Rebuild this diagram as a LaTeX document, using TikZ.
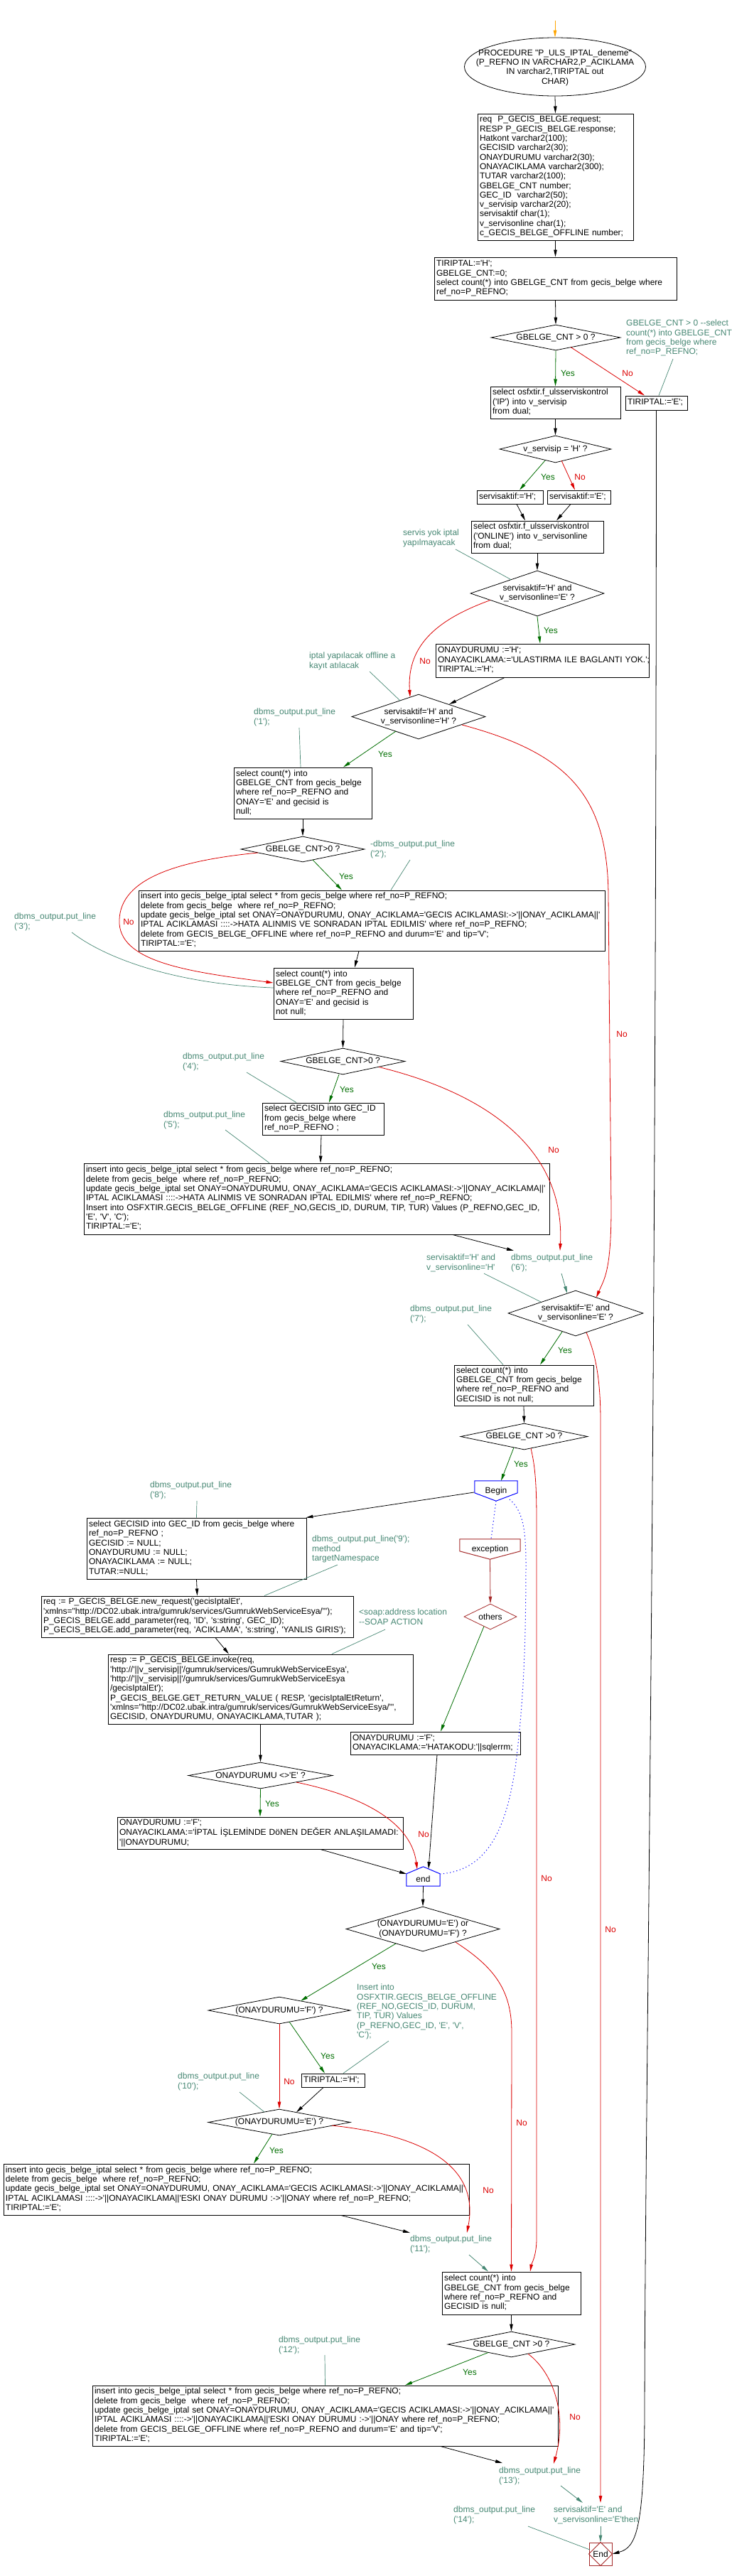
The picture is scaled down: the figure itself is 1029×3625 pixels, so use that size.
\documentclass[tikz,border=0pt]{standalone}
\usepackage{fontspec}
\usetikzlibrary{shapes.geometric,arrows.meta,calc}
\newfontfamily\df{Liberation Sans}
\newcommand\myfs{\df\fontsize{12pt}{13.33pt}\selectfont}
\newcommand\mytab[1]{\begin{tabular}{@{}l@{}}#1\end{tabular}}
\definecolor{tl}{RGB}{70,135,115}
\definecolor{gr}{RGB}{0,110,0}
\definecolor{rd}{RGB}{220,0,0}
\definecolor{dr}{RGB}{165,42,42}
\definecolor{bl}{RGB}{0,0,255}
\definecolor{og}{RGB}{255,165,0}
\begin{document}
\begin{tikzpicture}[x=1pt,y=-1pt,
  font=\myfs,
  bx/.style={draw, line width=1pt, inner xsep=3pt, inner ysep=1pt, align=left},
  dia/.style={diamond, draw, line width=0.8pt, inner sep=0pt},
  cmt/.style={text=tl, align=left, inner sep=0pt, anchor=north west},
  yl/.style={text=gr, inner sep=0pt},
  nl/.style={text=rd, inner sep=0pt},
  ar/.style={line width=0.8pt, -{Triangle[length=10pt,width=4.5pt]}},
  ya/.style={ar, gr},
  na/.style={ar, rd},
  ta/.style={ar, tl},
  tn/.style={line width=0.7pt, tl},
  bd/.style={bl, line width=1pt, dash pattern=on 1.2pt off 3.5pt},
]
\path[use as bounding box, fill=white] (0,0) rectangle (1029,3625);

% ---------- nodes ----------
\coordinate (init) at (781,29);
\node[ellipse, draw, line width=0.8pt, minimum width=255pt, minimum height=82pt, inner sep=0pt] (start) at (781,94) {};
\node[align=center, inner sep=0pt] (startt) at (781,95) {PROCEDURE "P\_ULS\_IPTAL\_deneme"\\(P\_REFNO IN VARCHAR2,P\_ACIKLAMA\\IN varchar2,TIRIPTAL out\\CHAR)};

\node[bx, text width=213pt, minimum height=178pt] (decl) at (781.5,249) {\mytab{req~ P\_GECIS\_BELGE.request;\\RESP P\_GECIS\_BELGE.response;\\Hatkont varchar2(100);\\GECISID varchar2(30);\\ONAYDURUMU varchar2(30);\\ONAYACIKLAMA varchar2(300);\\TUTAR varchar2(100);\\GBELGE\_CNT number;\\GEC\_ID~ varchar2(50);\\v\_servisip varchar2(20);\\servisaktif char(1);\\v\_servisonline char(1);\\c\_GECIS\_BELGE\_OFFLINE number;}};

\node[bx, text width=335pt, minimum height=60pt] (b2) at (781.5,392) {\mytab{TIRIPTAL:='H';\\GBELGE\_CNT:=0;\\select count(*) into GBELGE\_CNT from gecis\_belge where\\ref\_no=P\_REFNO;}};

\node[dia, minimum width=182pt, minimum height=36pt] (d1) at (782,475) {};
\node (d1t) at (d1) {GBELGE\_CNT > 0 ?};

\node[bx, text width=177pt, minimum height=45pt] (b3) at (781.5,566.5) {\mytab{select osfxtir.f\_ulsserviskontrol\\('IP') into v\_servisip\\from dual;}};
\node[bx, text width=81pt, minimum height=20pt] (bE) at (923.5,567) {\mytab{TIRIPTAL:='E';}};

\node[dia, minimum width=157pt, minimum height=38pt] (d2) at (781.5,632) {};
\node (d2t) at (d2) {v\_servisip = 'H' ?};

\node[bx, text width=87pt, minimum height=19pt] (bsH) at (717.5,699.5) {\mytab{servisaktif:='H';}};
\node[bx, text width=83pt, minimum height=19pt] (bsE) at (814.5,699.5) {\mytab{servisaktif:='E';}};

\node[bx, text width=180pt, minimum height=45pt] (b4) at (756,755.5) {\mytab{select osfxtir.f\_ulsserviskontrol\\('ONLINE') into v\_servisonline\\from dual;}};

\node[dia, minimum width=188pt, minimum height=64pt] (d3) at (756,835) {};
\node[align=center] (d3t) at (d3) {servisaktif='H' and\\v\_servisonline='E' ?};

\node[bx, text width=294pt, minimum height=47pt] (b5) at (763,929.5) {\mytab{ONAYDURUMU :='H';\\ONAYACIKLAMA:='ULASTIRMA ILE BAGLANTI YOK.';\\TIRIPTAL:='H';}};

\node[dia, minimum width=188pt, minimum height=63pt] (d4) at (589,1008.5) {};
\node[align=center] (d4t) at (d4) {servisaktif='H' and\\v\_servisonline='H' ?};

\node[bx, text width=188pt, minimum height=72pt] (b6) at (426,1116) {\mytab{select count(*) into\\GBELGE\_CNT from gecis\_belge\\where ref\_no=P\_REFNO and\\ONAY='E' and gecisid is\\null;}};

\node[dia, minimum width=174pt, minimum height=36pt] (d5) at (426,1195) {};
\node (d5t) at (d5) {GBELGE\_CNT>0 ?};

\node[bx, text width=650pt, minimum height=85pt] (b7) at (523,1295.5) {\mytab{insert into gecis\_belge\_iptal select * from gecis\_belge where ref\_no=P\_REFNO;\\delete from gecis\_belge~ where ref\_no=P\_REFNO;\\update gecis\_belge\_iptal set ONAY=ONAYDURUMU, ONAY\_ACIKLAMA='GECIS ACIKLAMASI:->'||ONAY\_ACIKLAMA||'\\IPTAL ACIKLAMASI ::::->HATA ALINMIS VE SONRADAN IPTAL EDILMIS' where ref\_no=P\_REFNO;\\delete from GECIS\_BELGE\_OFFLINE where ref\_no=P\_REFNO and durum='E' and tip='V';\\TIRIPTAL:='E';}};

\node[bx, text width=190pt, minimum height=72pt] (b8) at (483,1398) {\mytab{select count(*) into\\GBELGE\_CNT from gecis\_belge\\where ref\_no=P\_REFNO and\\ONAY='E' and gecisid is\\not null;}};

\node[dia, minimum width=175pt, minimum height=37pt] (d7) at (482.5,1493.5) {};
\node (d7t) at (d7) {GBELGE\_CNT>0 ?};

\node[bx, text width=165pt, minimum height=45pt] (b9) at (454.5,1574.5) {\mytab{select GECISID into GEC\_ID\\from gecis\_belge where\\ref\_no=P\_REFNO ;}};

\node[bx, text width=649pt, minimum height=100pt] (b10) at (445.5,1687) {\mytab{insert into gecis\_belge\_iptal select * from gecis\_belge where ref\_no=P\_REFNO;\\delete from gecis\_belge~ where ref\_no=P\_REFNO;\\update gecis\_belge\_iptal set ONAY=ONAYDURUMU, ONAY\_ACIKLAMA='GECIS ACIKLAMASI:->'||ONAY\_ACIKLAMA||'\\IPTAL ACIKLAMASI ::::->HATA ALINMIS VE SONRADAN IPTAL EDILMIS' where ref\_no=P\_REFNO;\\Insert into OSFXTIR.GECIS\_BELGE\_OFFLINE (REF\_NO,GECIS\_ID, DURUM, TIP, TUR) Values (P\_REFNO,GEC\_ID,\\'E', 'V', 'C');\\TIRIPTAL:='E';}};

\node[dia, minimum width=190pt, minimum height=64pt] (d6) at (810,1848) {};
\node[align=center] (d6t) at (d6) {servisaktif='E' and\\v\_servisonline='E' ?};

\node[bx, text width=190pt, minimum height=57pt] (b11) at (737,1949.5) {\mytab{select count(*) into\\GBELGE\_CNT from gecis\_belge\\where ref\_no=P\_REFNO and\\GECISID is not null;}};

\node[dia, minimum width=179pt, minimum height=37pt] (d8) at (737.5,2021.5) {};
\node (d8t) at (d8) {GBELGE\_CNT >0 ?};

\node[minimum width=60pt, minimum height=28pt, inner sep=0pt] (begin) at (698,2098) {Begin};
\draw[bl, line width=1pt] (begin.north west) -- (begin.north east) -- ($(begin.north east)+(0,17)$) -- (begin.south) -- ($(begin.north west)+(0,17)$) -- cycle;

\node[bx, text width=303pt, minimum height=86pt] (b12) at (276.5,2179) {\mytab{select GECISID into GEC\_ID from gecis\_belge where\\ref\_no=P\_REFNO ;\\GECISID := NULL;\\ONAYDURUMU := NULL;\\ONAYACIKLAMA := NULL;\\TUTAR:=NULL;}};

\node[bx, text width=433pt, minimum height=58pt] (b13) at (277.5,2275) {\mytab{req := P\_GECIS\_BELGE.new\_request('gecisIptalEt',\\'xmlns="http://DC02.ubak.intra/gumruk/services/GumrukWebServiceEsya/"');\\P\_GECIS\_BELGE.add\_parameter(req, 'ID', 's:string', GEC\_ID);\\P\_GECIS\_BELGE.add\_parameter(req, 'ACIKLAMA', 's:string', 'YANLIS GIRIS');}};

\node[bx, text width=423pt, minimum height=98pt] (b14) at (366.5,2377) {\mytab{resp := P\_GECIS\_BELGE.invoke(req,\\'http://'||v\_servisip||'/gumruk/services/GumrukWebServiceEsya',\\'http://'||v\_servisip||'/gumruk/services/GumrukWebServiceEsya\\/gecisIptalEt');\\P\_GECIS\_BELGE.GET\_RETURN\_VALUE ( RESP, 'gecisIptalEtReturn',\\'xmlns="http://DC02.ubak.intra/gumruk/services/GumrukWebServiceEsya/"',\\GECISID, ONAYDURUMU, ONAYACIKLAMA,TUTAR );}};

\node[minimum width=85pt, minimum height=28pt, inner sep=0pt] (exc) at (689.5,2180) {exception};
\draw[dr, line width=1pt] (exc.north west) -- (exc.north east) -- ($(exc.north east)+(0,17)$) -- (exc.south) -- ($(exc.north west)+(0,17)$) -- cycle;

\node[dia, draw=dr, minimum width=74pt, minimum height=36pt] (others) at (690,2275) {};
\node (otherst) at (others) {others};

\node[bx, text width=233pt, minimum height=32pt] (b15) at (612.5,2453) {\mytab{ONAYDURUMU :='F';\\ONAYACIKLAMA:='HATAKODU:'||sqlerrm;}};

\node[dia, minimum width=203pt, minimum height=37pt] (d9) at (366.5,2498.5) {};
\node (d9t) at (d9) {ONAYDURUMU <>'E' ?};

\node[bx, text width=396pt, minimum height=45pt] (b16) at (366,2579.5) {\mytab{ONAYDURUMU :='F';\\ONAYACIKLAMA:='İPTAL İŞLEMİNDE DöNEN DEĞER ANLAŞILAMADI:\\'||ONAYDURUMU;}};

\node[minimum width=47pt, minimum height=27pt, inner sep=0pt] (endn) at (595.5,2640.5) {};
\draw[bl, line width=1pt] (endn.north) -- ($(endn.north east)+(0,10)$) -- (endn.south east) -- (endn.south west) -- ($(endn.north west)+(0,10)$) -- cycle;
\node (endt) at (595.5,2644) {end};

\node[dia, minimum width=216pt, minimum height=63pt] (d10) at (595,2714.5) {};
\node[align=center] (d10t) at (d10) {(ONAYDURUMU='E') or\\(ONAYDURUMU='F') ?};

\node[dia, minimum width=200pt, minimum height=38pt] (d11) at (393,2829) {};
\node (d11t) at (d11) {(ONAYDURUMU='F') ?};

\node[bx, text width=83pt, minimum height=19pt] (bH) at (468.5,2927.5) {\mytab{TIRIPTAL:='H';}};

\node[dia, minimum width=200pt, minimum height=37pt] (d12) at (393,2986.5) {};
\node (d12t) at (d12) {(ONAYDURUMU='E') ?};

\node[bx, text width=649pt, minimum height=72pt] (b18) at (332.5,3081) {\mytab{insert into gecis\_belge\_iptal select * from gecis\_belge where ref\_no=P\_REFNO;\\delete from gecis\_belge~ where ref\_no=P\_REFNO;\\update gecis\_belge\_iptal set ONAY=ONAYDURUMU, ONAY\_ACIKLAMA='GECIS ACIKLAMASI:->'||ONAY\_ACIKLAMA||'\\IPTAL ACIKLAMASI ::::->'||ONAYACIKLAMA||'ESKI ONAY DURUMU :->'||ONAY where ref\_no=P\_REFNO;\\TIRIPTAL:='E';}};

\node[bx, text width=189pt, minimum height=60pt] (b17) at (719.5,3227) {\mytab{select count(*) into\\GBELGE\_CNT from gecis\_belge\\where ref\_no=P\_REFNO and\\GECISID is null;}};

\node[dia, minimum width=179pt, minimum height=36pt] (d13) at (719.5,3299) {};
\node (d13t) at (d13) {GBELGE\_CNT >0 ?};

\node[bx, text width=649pt, minimum height=85pt] (b19) at (457.5,3399.5) {\mytab{insert into gecis\_belge\_iptal select * from gecis\_belge where ref\_no=P\_REFNO;\\delete from gecis\_belge~ where ref\_no=P\_REFNO;\\update gecis\_belge\_iptal set ONAY=ONAYDURUMU, ONAY\_ACIKLAMA='GECIS ACIKLAMASI:->'||ONAY\_ACIKLAMA||'\\IPTAL ACIKLAMASI ::::->'||ONAYACIKLAMA||'ESKI ONAY DURUMU :->'||ONAY where ref\_no=P\_REFNO;\\delete from GECIS\_BELGE\_OFFLINE where ref\_no=P\_REFNO and durum='E' and tip='V';\\TIRIPTAL:='E';}};

\node[draw=dr, line width=1pt, minimum width=32pt, minimum height=32pt, inner sep=0pt] (End) at (845,3594) {};
\draw[dr, line width=0.8pt] (End.north) -- (End.east) -- (End.south) -- (End.west) -- cycle;
\node (Endt) at (End) {End};

% ---------- comments ----------
\node[cmt] (c0) at (881,450) {GBELGE\_CNT > 0 --select\\count(*) into GBELGE\_CNT\\from gecis\_belge where\\ref\_no=P\_REFNO;};
\node[cmt] (c1) at (567,745) {servis yok iptal\\yapılmayacak};
\node[cmt] (c2) at (435,918) {iptal yapılacak offline a\\kayıt atılacak};
\node[cmt] (c3) at (357,997) {dbms\_output.put\_line\\('1');};
\node[cmt] (c4) at (521,1183) {-dbms\_output.put\_line\\('2');};
\node[cmt] (c5) at (20,1285) {dbms\_output.put\_line\\('3');};
\node[cmt] (c6) at (257,1482) {dbms\_output.put\_line\\('4');};
\node[cmt] (c7) at (230,1564) {dbms\_output.put\_line\\('5');};
\node[cmt] (c8) at (719,1765) {dbms\_output.put\_line\\('6');};
\node[cmt] (c9) at (600,1765) {servisaktif='H' and\\v\_servisonline='H'};
\node[cmt] (c10) at (577,1837) {dbms\_output.put\_line\\('7');};
\node[cmt] (c11) at (211,2085) {dbms\_output.put\_line\\('8');};
\node[cmt] (c12) at (439,2161) {dbms\_output.put\_line('9');\\method\\targetNamespace};
\node[cmt] (c13) at (505,2264) {<soap:address location\\--SOAP ACTION};
\node[cmt] (c14) at (502,2792) {Insert into\\OSFXTIR.GECIS\_BELGE\_OFFLINE\\(REF\_NO,GECIS\_ID, DURUM,\\TIP, TUR) Values\\(P\_REFNO,GEC\_ID, 'E', 'V',\\'C');};
\node[cmt] (c15) at (250,2917) {dbms\_output.put\_line\\('10');};
\node[cmt] (c16) at (577,3146) {dbms\_output.put\_line\\('11');};
\node[cmt] (c17) at (392,3288) {dbms\_output.put\_line\\('12');};
\node[cmt] (c18) at (702,3472) {dbms\_output.put\_line\\('13');};
\node[cmt] (c19) at (779,3527) {servisaktif='E' and\\v\_servisonline='E'then};
\node[cmt] (c20) at (638,3527) {dbms\_output.put\_line\\('14');};

% ---------- Yes / No labels ----------
\node[yl] (y1) at (799,525) {Yes};   \node[nl] (n1) at (883,525) {No};
\node[yl] (y2) at (771,671) {Yes};   \node[nl] (n2) at (816,671) {No};
\node[yl] (y3) at (775,887) {Yes};   \node[nl] (n3) at (598,930) {No};
\node[yl] (y4) at (542,1061) {Yes};  \node[nl] (n4) at (875,1455) {No};
\node[yl] (y5) at (487,1233) {Yes};  \node[nl] (n5) at (181,1297) {No};
\node[yl] (y7) at (488,1533) {Yes};  \node[nl] (n7) at (779,1618) {No};
\node[yl] (y6) at (795,1900) {Yes};  \node[nl] (n6) at (859,2715) {No};
\node[yl] (y8) at (733,2060) {Yes};  \node[nl] (n8) at (769,2643) {No};
\node[yl] (y9) at (383,2538) {Yes};  \node[nl] (n9) at (596,2581) {No};
\node[yl] (y10) at (533,2767) {Yes}; \node[nl] (n10) at (734,2987) {No};
\node[yl] (y11) at (461,2893) {Yes}; \node[nl] (n11) at (407,2929) {No};
\node[yl] (y12) at (389,3026) {Yes}; \node[nl] (n12) at (687,3082) {No};
\node[yl] (y13) at (661,3338) {Yes}; \node[nl] (n13) at (809,3401) {No};

% ---------- connectors ----------
\draw[ar, og] (init) -- (start.north);
\draw[ar] (start.south) -- (decl.north);
\draw[ar] (decl.south) -- (b2.north);
\draw[ar] (b2.south) -- (d1.north);
\draw[ya] (d1.south) -- (b3.north);
\draw[na] ($(d1)+(21,13.5)$) -- ($(bE.north)+(-16.5,0)$);
\draw[tn] ($(c0.north west)+(66,55)$) -- ($(bE.north)+(3.5,0)$);
\draw[ar] (bE.south) .. controls (923,2200) and (908,2900) .. (907,3400) .. controls (906,3560) and (895,3585) .. (End.east);
\draw[ar] (b3.south) -- (d2.north);
\draw[ya] ($(d2)+(-14.5,16)$) -- ($(bsH.north)+(13.5,0)$);
\draw[na] ($(d2)+(8.5,16)$) -- ($(bsE.north)+(-5.5,0)$);
\draw[ar] ($(bsH.south)+(9.5,0)$) -- ($(b4.north)+(-17,0)$);
\draw[ar] ($(bsE.south)+(-11.5,0)$) -- ($(b4.north)+(27,0)$);
\draw[tn] ($(c1.north west)+(74,28)$) -- ($(d3)+(-37,-19.4)$);
\draw[ar] (b4.south) -- (d3.north);
\draw[ya] (d3.south) -- ($(b5.north)+(-3,0)$);
\draw[na] ($(d3)+(-66,9.5)$) .. controls (620,870) and (572,905) .. ($(d4)+(-12,-27.5)$);
\draw[ar] ($(b5.south)+(-53,0)$) -- ($(d4)+(43,-17.5)$);
\draw[tn] ($(c2.north west)+(85,27)$) -- ($(d4)+(-26,-22.5)$);
\draw[ya] ($(d4)+(-32,20.5)$) -- ($(b6.north)+(57,0)$);
\draw[na] ($(d4)+(61,11.5)$) .. controls (800,1060) and (855,1120) .. (856,1260) -- (860,1700) .. controls (860,1790) and (850,1800) .. ($(d6)+(29,-22)$);
\draw[tn] ($(c3.north west)+(64,27)$) -- ($(b6.north)+(-3,0)$);
\draw[ar] (b6.south) -- (d5.north);
\draw[tn] ($(c4.north west)+(56,27)$) -- ($(b7.north)+(27,0)$);
\draw[ya] ($(d5)+(14,15)$) -- ($(b7.north)+(-42,0)$);
\draw[na] ($(d5)+(-63,5)$) .. controls (240,1212) and (165,1240) .. (168,1300) .. controls (172,1355) and (270,1368) .. ($(b8.west)+(0,-15)$);
\draw[tn] ($(c5.north west)+(81,27)$) .. controls (150,1350) and (250,1385) .. ($(b8.west)+(0,-8)$);
\draw[ar] ($(b7.south)+(-18,0)$) -- ($(b8.north)+(16,0)$);
\draw[ar] (b8.south) -- (d7.north);
\draw[tn] ($(c6.north west)+(90,27)$) -- ($(b9.north)+(-37.5,0)$);
\draw[ya] ($(d7)+(-5.5,18.5)$) -- ($(b9.north)+(8.5,0)$);
\draw[na] ($(d7)+(50.5,8)$) .. controls (690,1540) and (795,1620) .. ($(c8.north west)+(69,-5)$);
\draw[tn] ($(c7.north west)+(87,26)$) -- ($(b10.north)+(-66.5,0)$);
\draw[ar] ($(b9.south)+(-2.5,0)$) -- ($(b10.north)+(5.5,0)$);
\draw[ar] ($(b10.south)+(191.5,0)$) -- ($(c8.north west)+(4,-5)$);
\draw[ta] ($(c8.north west)+(71,27)$) -- ($(d6)+(-12,-28)$);
\draw[tn] ($(c9.north west)+(81,27)$) -- ($(d6)+(-49,-16)$);
\draw[ya] ($(d6)+(-19,26)$) -- ($(b11.north)+(23,0)$);
\draw[na] ($(d6)+(15,27)$) .. controls (838,1905) and (845,1940) .. (845,2000) -- ($(c19.north west)+(66,-5)$);
\draw[tn] ($(c10.north west)+(81,27)$) -- ($(b11.north)+(-29,0)$);
\draw[ar] (b11.south) -- (d8.north);
\draw[ya] ($(d8)+(-14.5,15.5)$) -- ($(begin.north)+(7,0)$);
\draw[na] ($(d8)+(9.5,16.5)$) .. controls (752,2060) and (755,2080) .. (755,2140) -- (755,3150) .. controls (755,3175) and (748,3185) .. ($(b17.north)+(26.5,0)$);
\draw[tn] ($(c11.north west)+(66,27)$) -- (b12.north);
\draw[ar] ($(begin)+(-31,2)$) -- ($(b12.north east)+(-1,0)$);
\draw[bd] (begin.south) -- ($(exc.north)+(1.5,0)$);
\draw[bd] ($(begin)+(19,12)$) .. controls (735,2125) and (740,2150) .. (740,2200) .. controls (740,2320) and (736,2400) .. (726,2480) .. controls (712,2585) and (680,2632) .. ($(endn)+(24.5,-3.5)$);
\draw[ar, dr] (exc.south) -- (others.north);
\draw[ya] ($(others)+(-9,13.6)$) -- ($(b15.north)+(7.5,0)$);
\draw[ar] (b12.south) -- (b13.north);
\draw[tn] ($(c12.north west)+(36,41)$) -- ($(b13.north)+(94.5,0)$);
\draw[ar] ($(b13.south)+(25.5,0)$) -- ($(b14.north)+(-44.5,0)$);
\draw[tn] ($(c13.north west)+(37,29)$) -- ($(b14.north)+(100.5,0)$);
\draw[ar] ($(b15.south)+(2.5,0)$) -- ($(endn)+(7.5,-10.5)$);
\draw[ar] (b14.south) -- (d9.north);
\draw[ya] (d9.south) -- (b16.north);
\draw[na] ($(d9)+(50.5,9.5)$) .. controls (500,2525) and (578,2560) .. ($(endn)+(-8.5,-10)$);
\draw[ar] ($(b16.south)+(85,0)$) -- ($(endn)+(-23.5,-3.5)$);
\draw[ar] (endn.south) -- (d10.north);
\draw[ya] ($(d10)+(-38,20.5)$) -- ($(d11)+(30,-13.3)$);
\draw[na] ($(d10)+(46,18.5)$) .. controls (695,2768) and (720,2800) .. (720,2860) -- (b17.north);
\draw[ya] ($(d11)+(14,16)$) -- ($(bH.north)+(-11.5,0)$);
\draw[na] (d11.south) -- (d12.north);
\draw[tn] ($(c14.north west)+(45,80)$) -- ($(bH.north)+(14.5,0)$);
\draw[ar] ($(bH.south)+(-13.5,0)$) -- ($(d12)+(24,-14.1)$);
\draw[tn] ($(c15.north west)+(87,27)$) -- ($(d12)+(-21,-14.5)$);
\draw[ya] ($(d12)+(-10,16.5)$) -- ($(b18.north)+(24.5,0)$);
\draw[na] ($(d12)+(74,4.5)$) .. controls (600,3005) and (675,3050) .. ($(c16.north west)+(80,-4)$);
\draw[ar] ($(b18.south)+(147.5,0)$) -- ($(c16.north west)+(0,-4)$);
\draw[ta] ($(c16.north west)+(83,27)$) -- ($(b17.north)+(-32.5,0)$);
\draw[ar] (b17.south) -- (d13.north);
\draw[tn] ($(c17.north west)+(65,26)$) -- (b19.north);
\draw[ya] ($(d13)+(-32.5,11.5)$) -- ($(b19.north)+(112.5,0)$);
\draw[na] ($(d13)+(23.5,13.3)$) .. controls (780,3340) and (798,3400) .. ($(c18.north west)+(77,-5)$);
\draw[ar] ($(b19.south)+(162.5,0)$) -- ($(c18.north west)+(5,-6)$);
\draw[ta] ($(c18.north west)+(87,26)$) -- ($(c19.north west)+(41,-5)$);
\draw[ta] ($(c19.north west)+(66,28)$) -- (End.north);
\draw[tn] ($(c20.north west)+(105,28)$) -- ($(End)+(-15,-6)$);
\end{tikzpicture}
\end{document}
